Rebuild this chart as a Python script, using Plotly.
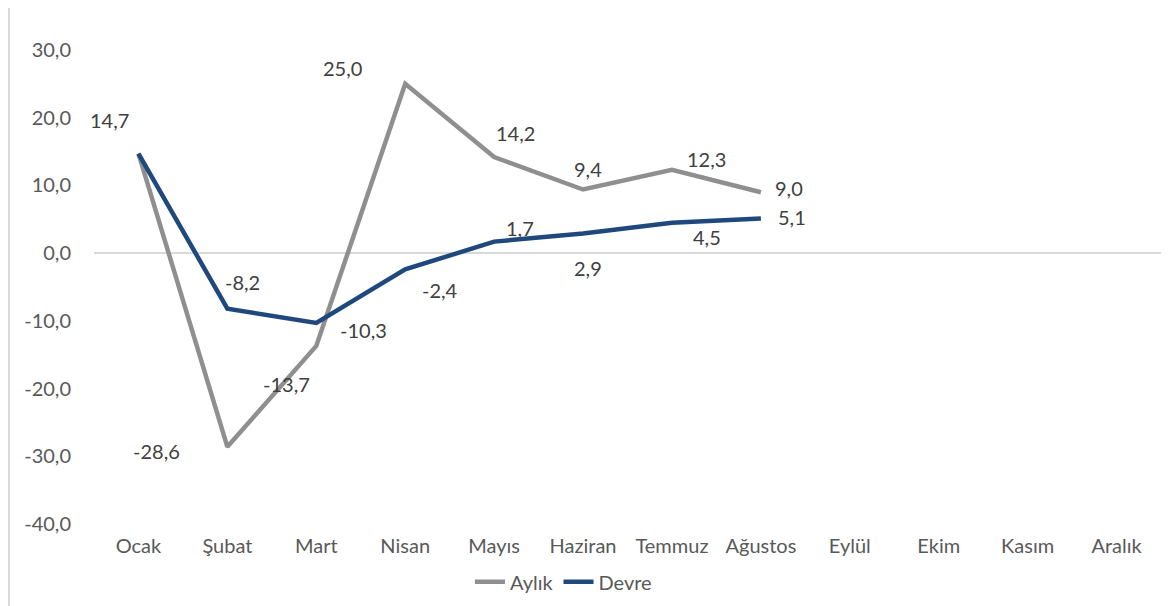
import plotly.graph_objects as go

months = ["Ocak", "Şubat", "Mart", "Nisan", "Mayıs", "Haziran", "Temmuz",
          "Ağustos", "Eylül", "Ekim", "Kasım", "Aralık"]
aylik = [14.7, -28.6, -13.7, 25.0, 14.2, 9.4, 12.3, 9.0, None, None, None, None]
devre = [14.7, -8.2, -10.3, -2.4, 1.7, 2.9, 4.5, 5.1, None, None, None, None]
y_ticks = [-40, -30, -20, -10, 0, 10, 20, 30]
y_tick_labels = ["-40,0", "-30,0", "-20,0", "-10,0", "0,0", "10,0", "20,0", "30,0"]

# label offsets in pixels (dx, dy up)
aylik_off = [(-29, 34), (-71, -4), (-30, -38), (-63, 16), (21, 24), (5, 20), (35, 11), (28, 4)]
devre_off = [None, (15, 27), (47, -7), (35, -21), (26, 14), (5, -34), (35, -14), (31, 2)]

GREY = "#8f8f8f"
BLUE = "#1f497d"
FONT = "Lato"

fig = go.Figure()
fig.add_trace(go.Scatter(x=months, y=aylik, mode="lines", name="Aylık",
                         line=dict(color=GREY, width=4.5)))
fig.add_trace(go.Scatter(x=months, y=devre, mode="lines", name="Devre",
                         line=dict(color=BLUE, width=4.5)))

def fmt(v):
    return f"{v:.1f}".replace(".", ",")

ann = []
for vals, offs in ((aylik, aylik_off), (devre, devre_off)):
    for i, off in enumerate(offs):
        if off is None or vals[i] is None:
            continue
        ann.append(dict(x=months[i], y=vals[i], text=fmt(vals[i]), showarrow=False,
                        xshift=off[0], yshift=off[1],
                        font=dict(family=FONT, size=20, color="#404040")))

fig.update_layout(
    width=1173, height=606,
    margin=dict(l=86, r=20, t=42, b=90, autoexpand=False),
    paper_bgcolor="white", plot_bgcolor="white",
    separators=",.",
    font=dict(family=FONT, size=20, color="#595959"),
    showlegend=True,
    legend=dict(orientation="h", x=0.44, xanchor="center", y=-0.122, yanchor="middle",
                font=dict(family=FONT, size=20, color="#595959"),
                itemwidth=30, tracegroupgap=0, bgcolor="rgba(0,0,0,0)"),
    annotations=ann,
    shapes=[dict(type="line", xref="paper", yref="paper",
                 x0=-0.0797, x1=-0.0797, y0=-0.25, y1=1.25,
                 line=dict(color="#d9d9d9", width=2))],
    xaxis=dict(type="category", categoryorder="array", categoryarray=months,
               range=[-0.5, 11.5], showgrid=False, showline=False, zeroline=False,
               automargin=False,
               ticks="", tickfont=dict(family=FONT, size=20, color="#595959"),
               ticklabelstandoff=8),
    yaxis=dict(range=[-40, 30], tickmode="array", tickvals=y_ticks, ticktext=y_tick_labels,
               showgrid=False, automargin=False,
               showline=False, zeroline=True, zerolinecolor="#d9d9d9", zerolinewidth=1.5,
               ticks="", tickfont=dict(family=FONT, size=20, color="#595959"),
               ticklabelstandoff=22),
)

fig.write_html("out.html")
